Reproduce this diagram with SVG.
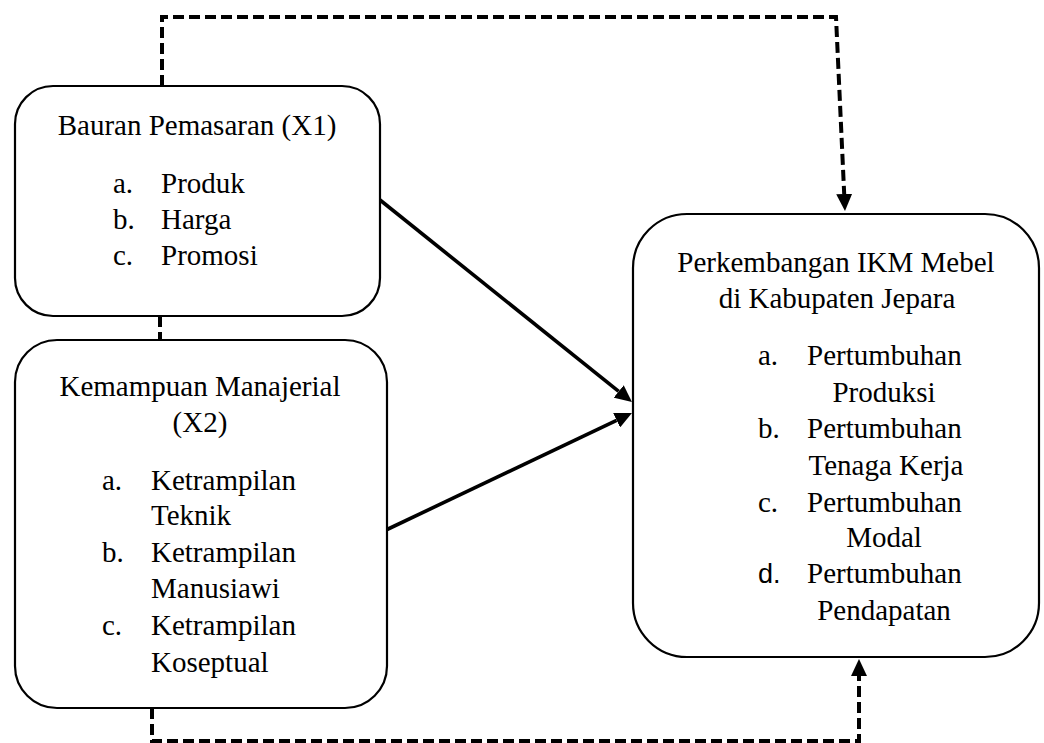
<svg xmlns="http://www.w3.org/2000/svg" width="1044" height="743" viewBox="0 0 1044 743">
<style>
.box{fill:#fff;stroke:#000;stroke-width:2.2}
.t{font-family:"Liberation Serif","Times New Roman",serif;font-size:29px;fill:#000}
.s{font-family:"Liberation Sans",Arial,sans-serif;font-size:27px;fill:#000}
.c{text-anchor:middle}
.solid{fill:none;stroke:#000;stroke-width:3.6}
.dash{fill:none;stroke:#000;stroke-width:4;stroke-dasharray:11 5}
</style>
<defs>
<marker id="ah" markerUnits="userSpaceOnUse" markerWidth="17" markerHeight="16" viewBox="0 0 17 16" refX="0" refY="8" orient="auto">
<path d="M0,0 L17,8 L0,16 z" fill="#000"/>
</marker>
</defs>
<g id="connectors">
<path class="dash" d="M162,86 V17 H836 L844.2,194" marker-end="url(#ah)"/>
<path class="dash" d="M160,316 V340"/>
<path class="dash" d="M152,708 V741 H859 V676" marker-end="url(#ah)"/>
<path class="solid" d="M380,200 L618.7,391.4" marker-end="url(#ah)"/>
<path class="solid" d="M386,530 L616.6,420.3" marker-end="url(#ah)"/>
</g>
<g id="x1">
<rect class="box" x="15" y="86" width="365" height="230" rx="38"/>
<text class="t c" x="197" y="135">Bauran Pemasaran (X1)</text>
<text class="t" x="113" y="193">a.</text><text class="t" x="161" y="193">Produk</text>
<text class="t" x="113" y="229">b.</text><text class="t" x="161" y="229">Harga</text>
<text class="t" x="113" y="265">c.</text><text class="t" x="161" y="265">Promosi</text>
</g>
<g id="x2">
<rect class="box" x="15" y="340" width="372" height="368" rx="42"/>
<text class="t c" x="200" y="396">Kemampuan Manajerial</text>
<text class="t c" x="200" y="432">(X2)</text>
<text class="t" x="102" y="490">a.</text><text class="t" x="151" y="490">Ketrampilan</text>
<text class="t" x="151" y="525">Teknik</text>
<text class="t" x="102" y="562">b.</text><text class="t" x="151" y="562">Ketrampilan</text>
<text class="t" x="151" y="598">Manusiawi</text>
<text class="t" x="102" y="635">c.</text><text class="t" x="151" y="635">Ketrampilan</text>
<text class="t" x="151" y="672">Koseptual</text>
</g>
<g id="y">
<rect class="box" x="633" y="214" width="406" height="443" rx="54"/>
<text class="t c" x="836" y="272">Perkembangan IKM Mebel</text>
<text class="t c" x="837" y="308">di Kabupaten Jepara</text>
<text class="t" x="758" y="365">a.</text><text class="t" x="807" y="365">Pertumbuhan</text>
<text class="t c" x="884" y="402">Produksi</text>
<text class="t" x="758" y="438">b.</text><text class="t" x="807" y="438">Pertumbuhan</text>
<text class="t c" x="886" y="475">Tenaga Kerja</text>
<text class="t" x="758" y="512">c.</text><text class="t" x="807" y="512">Pertumbuhan</text>
<text class="t c" x="884" y="547">Modal</text>
<text class="s" x="758" y="583">d.</text><text class="t" x="807" y="583">Pertumbuhan</text>
<text class="t c" x="884" y="620">Pendapatan</text>
</g>
</svg>
